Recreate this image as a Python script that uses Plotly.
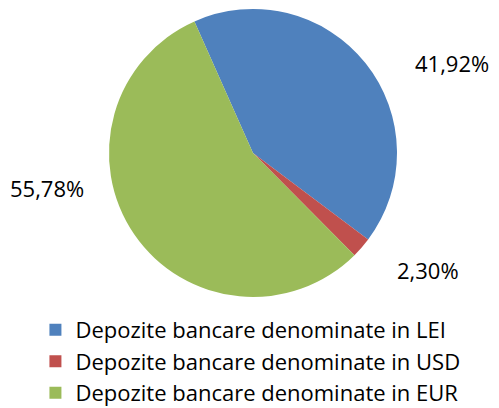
import plotly.graph_objects as go

labels = ["Depozite bancare denominate in LEI",
          "Depozite bancare denominate in USD",
          "Depozite bancare denominate in EUR"]
values = [41.92, 2.30, 55.78]
colors = ["#4F81BD", "#C0504D", "#9BBB59"]

# label placement (paper coords) for the percentage texts
label_pos = [(0.906, 0.846), (0.857, 0.339), (0.094, 0.539)]

W, H = 499, 408
cx, cy, r = 253, 153, 144
FONT = "Open Sans"

fig = go.Figure(go.Pie(
    labels=labels, values=values, sort=False, direction="clockwise",
    rotation=-24, textinfo="none", hoverinfo="label+percent",
    marker=dict(colors=colors, line=dict(width=0)),
    domain=dict(x=[(cx - r) / W, (cx + r) / W], y=[(H - cy - r) / H, (H - cy + r) / H]),
))

for v, (x, y) in zip(values, label_pos):
    fig.add_annotation(x=x, y=y, xref="paper", yref="paper",
                       xanchor="center", yanchor="middle",
                       text=f"{v:.2f}%".replace(".", ","), showarrow=False,
                       font=dict(size=22, color="#000000", family=FONT))

fig.update_layout(
    width=W, height=H, margin=dict(l=0, r=0, t=0, b=0, autoexpand=False),
    paper_bgcolor="white", plot_bgcolor="white",
    font=dict(family=FONT, color="#000000"),
    showlegend=True,
    legend=dict(x=0.071, xanchor="left", y=0.243, yanchor="top",
                font=dict(size=22, family=FONT, color="#000000"),
                bgcolor="rgba(0,0,0,0)", tracegroupgap=0),
)
fig.write_html("out.html")
